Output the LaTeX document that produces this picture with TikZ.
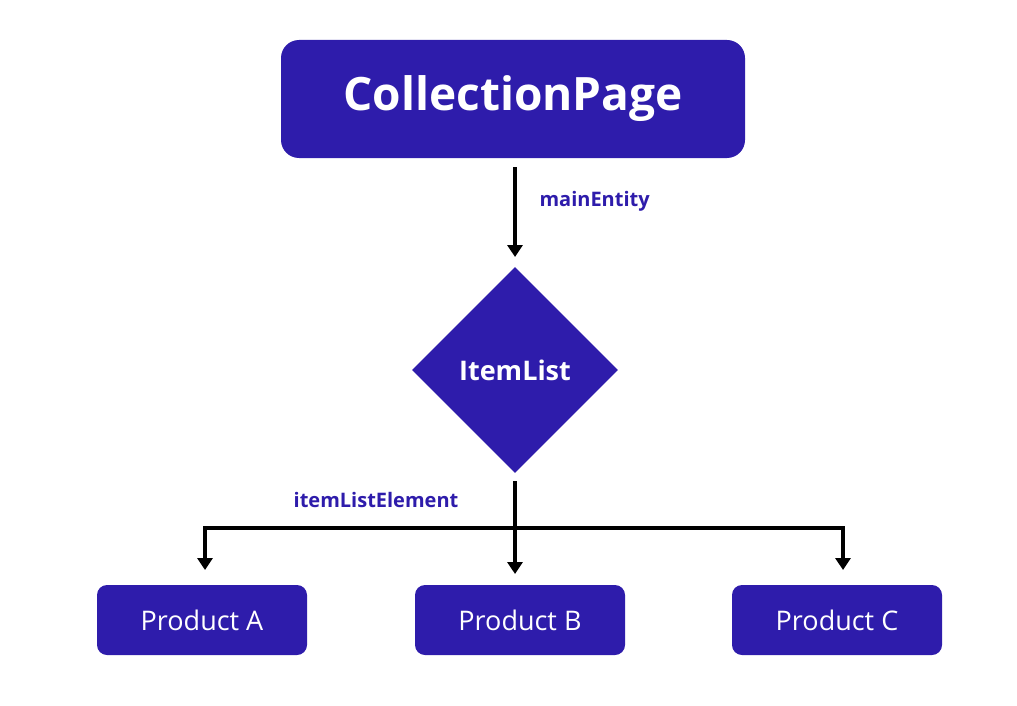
\documentclass[tikz,border=0pt]{standalone}
\usepackage{fontspec}
\setmainfont{Open Sans}
\usetikzlibrary{arrows.meta,shapes.geometric}
\definecolor{ind}{HTML}{2E1CAB}
\begin{document}
\begin{tikzpicture}[x=1pt,y=-1pt,
  box/.style={fill=ind,rounded corners=#1,inner sep=0},
  con/.style={line width=4pt,-{Triangle[length=12pt,width=15pt]}},
  lab/.style={text=ind,font=\bfseries\fontsize{20}{24}\selectfont},
  prod/.style={text=white,font=\fontsize{27}{32}\selectfont}]
\useasboundingbox (0,0) rectangle (1017,706);
\fill[box=18] (281,40) rectangle (745,158);
\node[text=white,font=\bfseries\fontsize{46}{54}\selectfont] (cp) at (513,99) {CollectionPage};
\coordinate (cpb) at (515,167);
\node[diamond,fill=ind,minimum width=206pt,minimum height=206pt,inner sep=0,text=white,font=\bfseries\fontsize{27}{32}\selectfont] (il) at (515,370) {ItemList};
\coordinate (ilt) at (515,257);
\draw[con] (cpb) -- (ilt);
\node[lab,anchor=west] (me) at (536,201) {mainEntity};
\coordinate (ilb) at (515,481);
\coordinate (hl) at (205,528);
\coordinate (hr) at (843,528);
\coordinate (ta) at (205,570);
\coordinate (tb) at (515,574);
\coordinate (tc) at (843,570);
\draw[line width=4pt] (ilb) -- (515,528);
\draw[line width=4pt,line cap=butt] ([xshift=-2pt]hl) -- ([xshift=2pt]hr);
\draw[con] (515,526) -- (tb);
\draw[con] ([yshift=-2pt]hl) -- (ta);
\draw[con] ([yshift=-2pt]hr) -- (tc);
\node[lab] (ile) at (376,500) {itemListElement};
\fill[box=10] (97,585) rectangle (307,655);
\fill[box=10] (415,585) rectangle (625,655);
\fill[box=10] (732,585) rectangle (942,655);
\node[prod] (pa) at (202,620) {Product A};
\node[prod] (pb) at (520,620) {Product B};
\node[prod] (pc) at (837,620) {Product C};
\end{tikzpicture}
\end{document}
